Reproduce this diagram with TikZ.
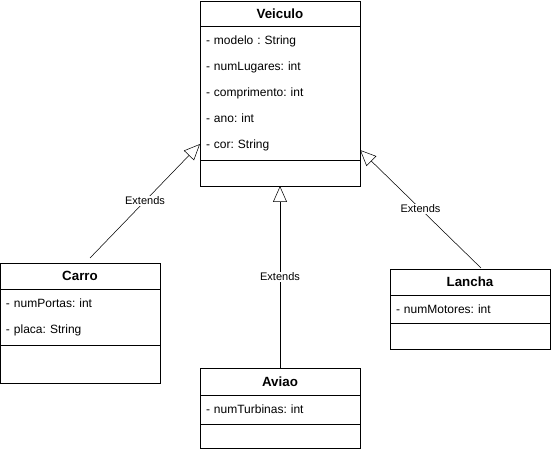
\documentclass[tikz,border=0pt]{standalone}
\usepackage{fontspec}
\setmainfont{Liberation Sans}
\usetikzlibrary{arrows.meta,positioning}

\begin{document}
\frenchspacing
\begin{tikzpicture}[x=0.75pt, y=-0.75pt, node distance=0pt,
    classtitle/.style={draw, anchor=north west, minimum width=120pt, inner sep=0pt, outer sep=0pt, font=\bfseries\fontsize{10}{12}\selectfont},
    classbody/.style={draw, minimum width=120pt, text width=111pt, inner xsep=4.5pt, inner ysep=0pt, outer sep=0pt, align=left, font=\fontsize{9}{19.5}\selectfont},
    extends/.style={draw, -{Triangle[open, length=12pt, width=10.5pt]}},
    extlabel/.style={fill=white, inner sep=1pt, font=\fontsize{8.25}{10}\selectfont}]
                \useasboundingbox (0,0) rectangle (551,449);

                % Veiculo
                \node (vtitle) [classtitle, minimum height=18.75pt] at (200,1) {Veiculo};
                \node (vattr) [classbody, below=of vtitle, minimum height=100.5pt] {- modelo : String\\- numLugares: int\\- comprimento: int\\- ano: int\\- cor: String};
                \node (vmeth) [classbody, below=of vattr, minimum height=19.5pt] {};

                % Carro
                \node (ctitle) [classtitle, minimum height=19.5pt] at (0,263) {Carro};
                \node (cattr) [classbody, below=of ctitle, minimum height=42pt] {- numPortas: int\\- placa: String};
                \node (cmeth) [classbody, below=of cattr, minimum height=28.5pt] {};

                % Aviao
                \node (atitle) [classtitle, minimum height=20.25pt] at (200,368) {Aviao};
                \node (aattr) [classbody, below=of atitle, minimum height=21.75pt] {- numTurbinas: int};
                \node (ameth) [classbody, below=of aattr, minimum height=18pt] {};

                % Lancha
                \node (ltitle) [classtitle, minimum height=19.5pt] at (390,269) {Lancha};
                \node (lattr) [classbody, below=of ltitle, minimum height=21pt] {- numMotores: int};
                \node (lmeth) [classbody, below=of lattr, minimum height=19.5pt] {};

                % Heranca
                \draw[extends] ([xshift=7.5pt, yshift=3.75pt]ctitle.north) -- node[extlabel] {Extends} ([yshift=-38.25pt]vattr.west);
                \draw[extends] (atitle.north) -- node[extlabel] {Extends} (vmeth.south);
                \draw[extends] ([xshift=8.25pt, yshift=0.75pt]ltitle.north) -- node[extlabel] {Extends} ([yshift=-42.75pt]vattr.east);
            \end{tikzpicture}
\end{document}
